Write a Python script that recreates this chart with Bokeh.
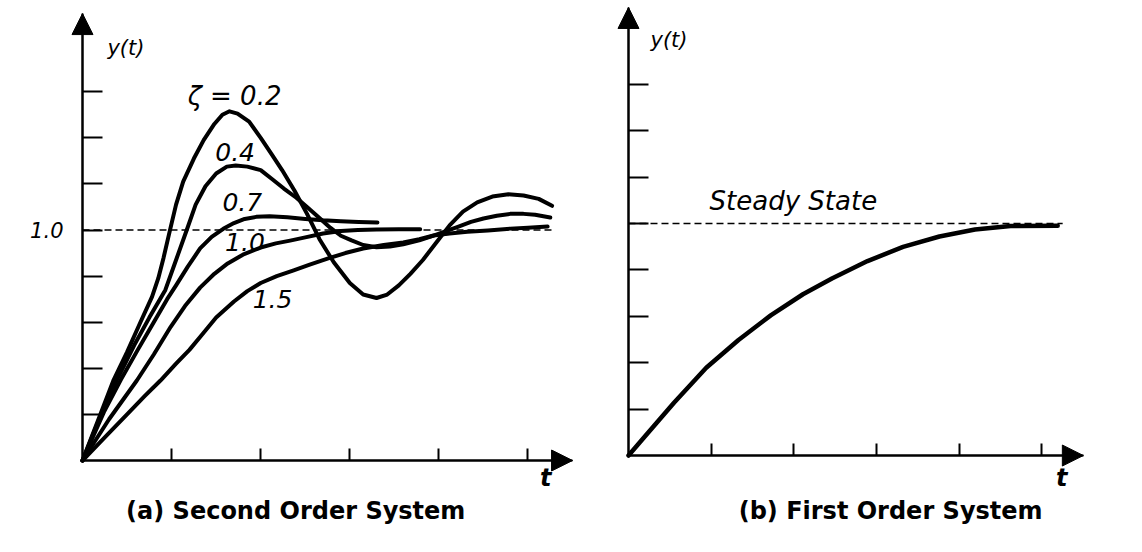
from bokeh.plotting import figure
from bokeh.models import FixedTicker, Arrow, NormalHead, Label, Range1d, CustomLabelingPolicy
from bokeh.layouts import row
from bokeh.embed import file_html
from bokeh.resources import INLINE

# ---------------- data ----------------
x_ticks = [1, 2, 3, 4, 5]
y_ticks = [0.2, 0.4, 0.6, 0.8, 1.0, 1.2, 1.4, 1.6]
steady_value = 1.0
steady_label = "1.0"

z02_t = [0, 0.2, 0.35, 0.5, 0.65, 0.78, 0.85, 0.91, 0.97, 1.05, 1.13, 1.25, 1.36, 1.48, 1.57, 1.65, 1.74, 1.87, 2.00, 2.12, 2.24,
         2.38, 2.52, 2.66, 2.82, 3.00, 3.15, 3.30, 3.42, 3.55, 3.68, 3.82, 3.98, 4.12, 4.27, 4.43, 4.60, 4.78, 4.95, 5.12, 5.27]
z02_y = [0, 0.2, 0.35, 0.47, 0.60, 0.71, 0.79, 0.88, 0.98, 1.11, 1.21, 1.31, 1.39, 1.46, 1.50, 1.515, 1.505, 1.47, 1.40, 1.33, 1.26,
         1.17, 1.07, 0.96, 0.86, 0.77, 0.72, 0.705, 0.72, 0.76, 0.81, 0.87, 0.95, 1.02, 1.08, 1.12, 1.145, 1.155, 1.15, 1.135, 1.105]

z04_t = [0, 0.22, 0.40, 0.58, 0.75, 0.93, 1.05, 1.17, 1.27, 1.38, 1.50, 1.62, 1.72, 1.85, 2.00, 2.13, 2.26, 2.40, 2.52,
         2.65, 2.78, 2.90, 3.02, 3.15, 3.30, 3.45, 3.60, 3.78, 3.94, 4.08, 4.22, 4.36, 4.50, 4.65, 4.80, 4.95, 5.08, 5.25]
z04_y = [0, 0.21, 0.36, 0.50, 0.62, 0.74, 0.87, 1.00, 1.11, 1.19, 1.245, 1.275, 1.28, 1.275, 1.26, 1.22, 1.18, 1.14, 1.10,
         1.055, 1.01, 0.975, 0.955, 0.935, 0.925, 0.928, 0.938, 0.955, 0.976, 0.995, 1.015, 1.035, 1.05, 1.062, 1.07, 1.07, 1.066, 1.054]

z07_t = [0, 0.24, 0.43, 0.62, 0.80, 0.95, 1.05, 1.18, 1.32, 1.45, 1.58, 1.70, 1.82, 1.95, 2.10, 2.30, 2.50, 2.70, 2.90, 3.10, 3.31]
z07_y = [0, 0.21, 0.35, 0.48, 0.60, 0.70, 0.76, 0.84, 0.92, 0.97, 1.005, 1.03, 1.048, 1.057, 1.06, 1.055, 1.048, 1.042, 1.038, 1.035, 1.033]

z10_t = [0, 0.30, 0.61, 0.80, 0.99, 1.15, 1.32, 1.48, 1.63, 1.80, 2.00, 2.17, 2.33, 2.50, 2.70, 2.90, 3.09, 3.30, 3.55, 3.79]
z10_y = [0, 0.18, 0.347, 0.46, 0.58, 0.67, 0.75, 0.81, 0.855, 0.893, 0.924, 0.942, 0.954, 0.968, 0.985, 0.996, 1.0, 1.002, 1.003, 1.003]

z15_t = [0, 0.25, 0.50, 0.70, 0.875, 1.05, 1.20, 1.35, 1.50, 1.70, 1.85, 2.00, 2.18, 2.37, 2.55, 2.75, 2.95, 3.15, 3.38, 3.60,
         3.78, 3.94, 4.12, 4.32, 4.55, 4.80, 5.00, 5.22]
z15_y = [0, 0.10, 0.20, 0.28, 0.347, 0.42, 0.48, 0.55, 0.62, 0.69, 0.735, 0.77, 0.80, 0.825, 0.85, 0.876, 0.90, 0.92, 0.935, 0.946,
         0.96, 0.976, 0.985, 0.992, 0.998, 1.006, 1.01, 1.015]

first_t = [0, 0.20, 0.55, 0.94, 1.33, 1.72, 2.11, 2.46, 2.89, 3.32, 3.76, 4.19, 4.62, 5.19]
first_y = [0, 0.083, 0.227, 0.378, 0.498, 0.604, 0.695, 0.763, 0.838, 0.899, 0.944, 0.974, 0.989, 0.99]

curve_labels = ["\u03b6 = 0.2", "0.4", "0.7", "1.0", "1.5"]

# ---------------- styling / layout ----------------
FONT = "DejaVu Sans"
X_ARROW = 5.5
HIDE_CODE = """
for (const i of indices)
  indices.unset(i)
"""


def make_fig(width, height, xr, yr, y_arrow, dash_end):
    p = figure(width=width, height=height,
               x_range=Range1d(*xr), y_range=Range1d(*yr),
               output_backend="svg", toolbar_location=None,
               min_border_left=0, min_border_right=0,
               min_border_top=0, min_border_bottom=0)
    p.grid.visible = False
    p.outline_line_color = None
    p.background_fill_color = "white"
    p.border_fill_color = "white"

    xa = p.xaxis[0]
    xa.fixed_location = 0
    xa.bounds = (0, X_ARROW)
    xa.ticker = FixedTicker(ticks=x_ticks)
    xa.major_tick_in = 12
    xa.major_tick_out = 0
    xa.minor_tick_line_color = None
    xa.axis_line_width = 2
    xa.major_tick_line_width = 2
    xa.major_label_policy = CustomLabelingPolicy(code=HIDE_CODE)

    ya = p.yaxis[0]
    ya.fixed_location = 0
    ya.bounds = (0, y_arrow)
    ya.ticker = FixedTicker(ticks=y_ticks)
    ya.major_tick_in = 20
    ya.major_tick_out = 0
    ya.minor_tick_line_color = None
    ya.axis_line_width = 2
    ya.major_tick_line_width = 2
    ya.major_label_policy = CustomLabelingPolicy(code=HIDE_CODE)

    p.add_layout(Arrow(end=NormalHead(size=21, fill_color="black", line_color="black"),
                       x_start=0, y_start=0, x_end=0, y_end=y_arrow, line_width=2))
    p.add_layout(Arrow(end=NormalHead(size=21, fill_color="black", line_color="black"),
                       x_start=0, y_start=0, x_end=X_ARROW, y_end=0, line_width=2))

    p.segment(x0=[0], y0=[steady_value], x1=[dash_end], y1=[steady_value],
              line_color="black", line_width=1.6, line_dash="7 4")
    return p


def lab(p, x, y, text, size, style="italic", align="left"):
    p.add_layout(Label(x=x, y=y, text=text, text_font=FONT, text_font_size=size,
                       text_font_style=style, text_align=align, text_baseline="middle",
                       text_color="black"))


# left panel: second order system
p1 = make_fig(591, 536, (-0.9203, 5.7127), (-0.3297, 1.9957), 1.939, 5.27)
for tt, yy in [(z02_t, z02_y), (z04_t, z04_y), (z07_t, z07_y), (z10_t, z10_y), (z15_t, z15_y)]:
    p1.line(tt, yy, line_color="black", line_width=4, line_join="round", line_cap="round")

lab(p1, -0.213, steady_value, steady_label, "21px", "italic", "right")
lab(p1, 0.28, 1.79, "y(t)", "21px")
lab(p1, 1.18, 1.58, curve_labels[0], "26px")
lab(p1, 1.49, 1.34, curve_labels[1], "25px")
lab(p1, 1.57, 1.12, curve_labels[2], "25px")
lab(p1, 1.60, 0.946, curve_labels[3], "25px")
lab(p1, 1.91, 0.70, curve_labels[4], "25px")
lab(p1, 5.2, -0.078, "t", "24px", "bold italic", "center")
lab(p1, 2.44, -0.217, "(a)  Second Order System", "24px", "bold", "center")

# right panel: first order system
p2 = make_fig(535, 536, (-0.4474, 6.0218), (-0.349, 1.961), 1.931, 5.25)
p2.line(first_t, first_y, line_color="black", line_width=4.5, line_join="round", line_cap="round")
lab(p2, 0.266, 1.789, "y(t)", "21px")
lab(p2, 0.98, 1.095, "Steady State", "26px")
lab(p2, 5.24, -0.095, "t", "24px", "bold italic", "center")
lab(p2, 3.22, -0.241, "(b)  First Order System", "24px", "bold", "center")

layout = row(p1, p2)
open("out.html", "w").write(file_html(layout, INLINE))
